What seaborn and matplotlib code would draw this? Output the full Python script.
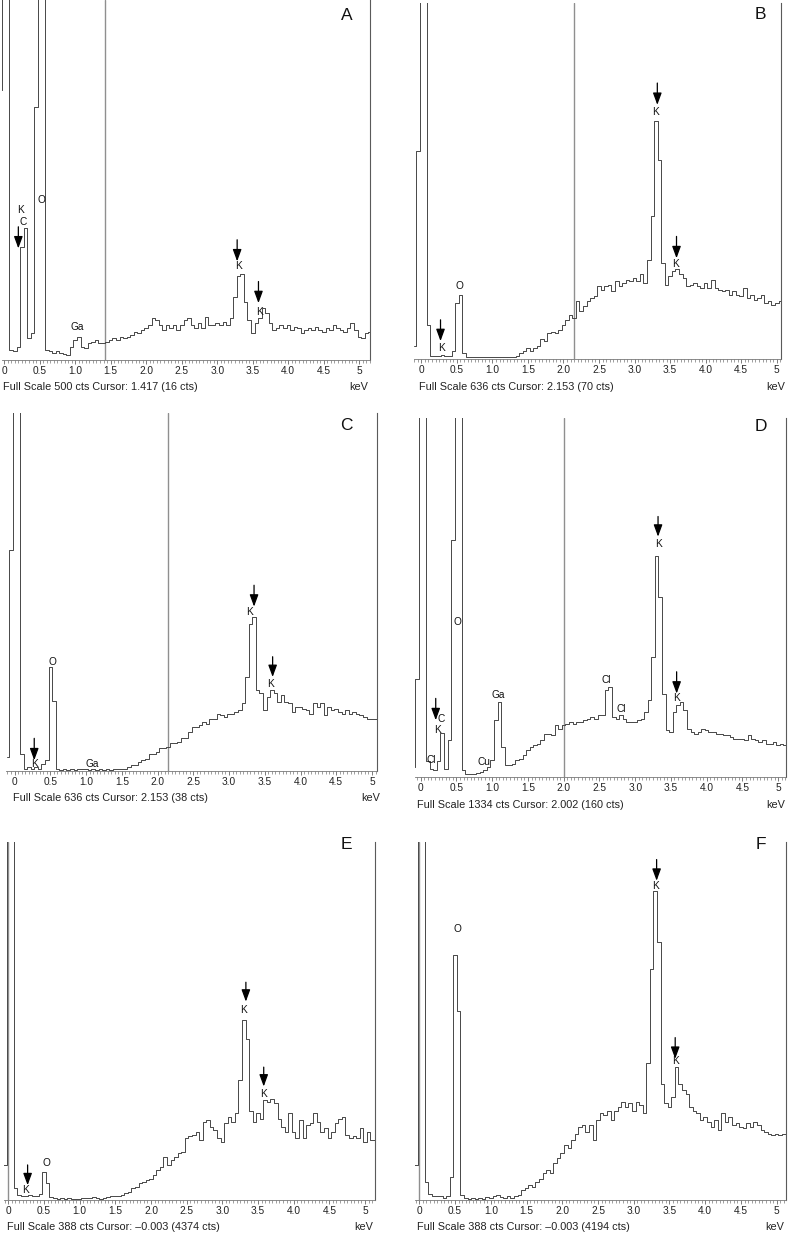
import numpy as np
import pandas as pd
import matplotlib
matplotlib.use("Agg")
import matplotlib.pyplot as plt
from matplotlib.ticker import FixedLocator, MultipleLocator, FuncFormatter
import seaborn as sns

# ── Data: EDS spectra, counts per 0.05 keV bin from -0.10 to 5.15 keV ─────────
A_CTS = [
    375, 375,
    4000, 4000, 14, 13, 18, 157, 183, 30, 37, 352,
    4000, 4000, 14, 12, 10, 12, 10, 8, 7, 18,
    28, 32, 18, 16, 23, 25, 28, 23, 23, 25,
    28, 30, 28, 32, 30, 32, 35, 39, 37, 42,
    44, 49, 58, 56, 49, 42, 49, 44, 49, 42,
    49, 56, 58, 49, 44, 51, 44, 60, 49, 49,
    51, 49, 53, 49, 58, 88, 116, 120, 81, 56,
    37, 51, 58, 72, 65, 51, 42, 44, 49, 44,
    49, 42, 46, 44, 37, 42, 44, 42, 46, 42,
    39, 44, 42, 49, 44, 42, 39, 44, 51, 42,
    32, 30, 37, 39,
]
B_CTS = [
    23, 371,
    4000, 4000, 60, 5, 6, 6, 7, 6, 5, 14,
    100, 115, 11, 4, 3, 4, 3, 4, 3, 4,
    3, 4, 3, 4, 3, 4, 4, 5, 11, 14,
    20, 14, 20, 23, 35, 32, 46, 49, 46, 52,
    61, 70, 79, 73, 103, 85, 94, 103, 109, 112,
    130, 124, 130, 133, 121, 139, 130, 136, 142, 139,
    145, 139, 151, 136, 177, 255, 425, 355, 172, 133,
    148, 157, 160, 151, 145, 130, 133, 136, 130, 127,
    136, 127, 142, 127, 124, 121, 124, 115, 121, 115,
    112, 127, 109, 115, 106, 109, 115, 100, 103, 97,
    100, 103, 103, 103,
]
C_CTS = [
    25, 393,
    4000, 4000, 30, 4, 7, 4, 7, 4, 13, 19,
    185, 125, 4, 2, 4, 2, 4, 2, 3, 3,
    3, 2, 3, 2, 3, 2, 3, 2, 3, 3,
    3, 4, 7, 10, 10, 16, 19, 22, 31, 31,
    34, 40, 40, 43, 49, 49, 52, 58, 58, 69,
    78, 78, 81, 87, 84, 93, 93, 102, 99, 96,
    102, 102, 105, 108, 120, 167, 262, 274, 144, 138,
    108, 132, 144, 138, 123, 135, 123, 120, 105, 114,
    114, 111, 108, 102, 120, 114, 120, 99, 114, 108,
    111, 105, 102, 108, 102, 105, 102, 99, 96, 93,
    93, 93, 93, 93,
]
D_CTS = [
    37, 366,
    4000, 4000, 60, 31, 27, 60, 163, 30, 136, 881,
    4000, 4000, 25, 12, 10, 12, 15, 19, 25, 37,
    62, 211, 279, 112, 43, 43, 50, 62, 68, 81,
    99, 112, 118, 124, 136, 161, 161, 155, 192, 180,
    192, 198, 205, 198, 205, 205, 211, 217, 223, 217,
    229, 229, 322, 335, 223, 217, 229, 217, 205, 205,
    205, 211, 217, 242, 285, 446, 820, 670, 310, 174,
    167, 242, 267, 279, 248, 180, 167, 161, 167, 180,
    174, 167, 167, 161, 161, 155, 155, 149, 143, 143,
    143, 136, 155, 143, 136, 130, 136, 124, 124, 130,
    118, 124, 118, 118,
]
E_CTS = [
    38, 38,
    4374, 4000, 13, 5, 4, 4, 5, 4, 4, 7,
    30, 18, 3, 2, 1, 2, 1, 2, 1, 1,
    1, 2, 2, 2, 3, 2, 1, 2, 3, 4,
    4, 4, 5, 8, 9, 13, 14, 18, 20, 22,
    23, 27, 32, 36, 47, 38, 43, 47, 51, 52,
    67, 69, 70, 74, 65, 85, 87, 79, 76, 67,
    63, 83, 90, 85, 94, 130, 195, 175, 97, 85,
    94, 88, 108, 106, 110, 105, 88, 79, 74, 94,
    74, 67, 87, 67, 81, 83, 94, 85, 74, 78,
    67, 74, 83, 88, 90, 70, 67, 69, 67, 78,
    63, 74, 65, 65,
]
F_CTS = [
    38, 38,
    4194, 4000, 20, 7, 4, 4, 4, 2, 4, 25,
    265, 205, 5, 2, 1, 2, 1, 2, 1, 3,
    2, 4, 5, 3, 2, 4, 2, 4, 5, 11,
    13, 16, 14, 20, 23, 29, 32, 29, 40, 45,
    51, 60, 56, 65, 72, 79, 81, 74, 81, 65,
    87, 94, 92, 96, 87, 97, 101, 106, 101, 105,
    97, 106, 103, 94, 148, 250, 335, 280, 126, 105,
    101, 112, 144, 126, 119, 115, 101, 96, 94, 87,
    90, 85, 79, 87, 76, 94, 85, 90, 81, 83,
    79, 78, 83, 79, 85, 81, 76, 74, 72, 70,
    72, 70, 72, 72,
]

PANELS = ["A", "B", "C", "D", "E", "F"]
SPECTRA = [A_CTS, B_CTS, C_CTS, D_CTS, E_CTS, F_CTS]
FULL_SCALE = [500, 636, 636, 1334, 388, 388]
CURSOR_KEV = [1.417, 2.153, 2.153, 2.002, -0.003, -0.003]
CURSOR_CTS = [16, 70, 38, 160, 4374, 4194]

# element labels (text, keV, cts) and marker arrows (keV, tail cts, tip cts)
PEAK_LABELS = [
    [("K", 0.235, 208), ("C", 0.27, 192), ("O", 0.52, 222), ("Ga", 1.03, 46),
     ("K", 3.30, 130), ("K", 3.59, 67)],
    [("K", 0.28, 20), ("O", 0.53, 131), ("K", 3.30, 441), ("K", 3.57, 169)],
    [("K", 0.275, 12), ("O", 0.53, 194), ("Ga", 1.08, 13), ("K", 3.28, 283),
     ("K", 3.58, 155)],
    [("Cl", 0.15, 62), ("C", 0.29, 217), ("K", 0.23, 176), ("O", 0.51, 577),
     ("Cu", 0.88, 56), ("Ga", 1.08, 304), ("Cl", 2.60, 362), ("Cl", 2.80, 254),
     ("K", 3.32, 866), ("K", 3.58, 292)],
    [("K", 0.24, 11), ("O", 0.53, 40), ("K", 3.30, 206), ("K", 3.57, 115)],
    [("O", 0.53, 294), ("K", 3.31, 340), ("K", 3.58, 151)],
]
ARROWS = [
    [(0.20, 185, 155), (3.28, 167, 137), (3.58, 109, 79)],
    [(0.27, 70, 32), (3.32, 493, 454), (3.59, 219, 180)],
    [(0.275, 58, 19), (3.35, 330, 292), (3.61, 203, 167)],
    [(0.21, 292, 211), (3.32, 968, 893), (3.58, 391, 310)],
    [(0.27, 38, 16), (3.33, 236, 215), (3.58, 144, 123)],
    [(3.32, 369, 346), (3.58, 176, 153)],
]

# ── Layout (pixels on a 788x1234 canvas) ──────────────────────────────────────
W, H = 788, 1234
RECTS = [(2, 0, 370, 360), (414, 3, 781, 359), (6, 413, 377, 771),
         (415, 418, 786, 777), (4, 842, 375, 1200), (415, 842, 786, 1200)]
XLIMS = [(-0.03, 5.15), (-0.103, 5.06), (-0.12, 5.07),
         (-0.08, 5.11), (-0.061, 5.14), (-0.06, 5.13)]
FOOTER_XY = [(3, 387, 368), (419, 387, 785), (13, 798, 380),
             (417, 805, 785), (7, 1227, 373), (417, 1227, 784)]
LETTER_XY = [(0.937, 0.958), (0.945, 0.969), (0.918, 0.964),
             (0.932, 0.976), (0.924, 0.992), (0.932, 0.992)]

LINE = "#474747"
CURSOR = "#8f8f8f"

sns.set_theme(style="white")
plt.rcParams["font.family"] = ["Liberation Sans", "DejaVu Sans"]


def tick_fmt(v, _):
    if abs(v) < 1e-9:
        return "0"
    if abs(v - 5) < 1e-9:
        return "5"
    return f"{v:.1f}"


fig = plt.figure(figsize=(W / 100, H / 100), dpi=100)
fig.patch.set_facecolor("white")

for i, name in enumerate(PANELS):
    counts = SPECTRA[i]
    assert len(counts) == 106, (name, len(counts))
    df = pd.DataFrame({"keV": np.round(-0.1 + 0.05 * np.arange(len(counts)), 2),
                       "cts": counts})
    l, t, r, b = RECTS[i]
    ax = fig.add_axes([l / W, 1 - b / H, (r - l) / W, (b - t) / H])
    ax.set_facecolor("white")

    ax.axvline(CURSOR_KEV[i], color=CURSOR, lw=1.0, zorder=1)
    sns.lineplot(data=df, x="keV", y="cts", ax=ax, estimator=None, sort=False,
                 drawstyle="steps-mid", color=LINE, linewidth=0.7, zorder=2)

    ax.set_xlim(*XLIMS[i])
    ax.set_ylim(0, FULL_SCALE[i])
    ax.set_xlabel("")
    ax.set_ylabel("")
    ax.set_yticks([])
    ax.xaxis.set_major_locator(FixedLocator(np.arange(0, 5.01, 0.5)))
    ax.xaxis.set_minor_locator(MultipleLocator(0.05))
    ax.xaxis.set_major_formatter(FuncFormatter(tick_fmt))
    ax.tick_params(axis="x", which="major", direction="out", length=3,
                   width=0.6, color="#666666", pad=1.2, labelsize=7.3,
                   labelcolor="#222222", bottom=True)
    ax.tick_params(axis="x", which="minor", direction="out", length=1.8,
                   width=0.5, color="#777777", bottom=True)

    for side in ("top", "left"):
        ax.spines[side].set_visible(False)
    ax.spines["right"].set_color("#5a5a5a")
    ax.spines["right"].set_linewidth(0.8)
    ax.spines["bottom"].set_color("#777777")
    ax.spines["bottom"].set_linewidth(0.6)

    for txt, e, c in PEAK_LABELS[i]:
        ax.text(e, c, txt, ha="center", va="center", fontsize=7.3,
                color="#111111", zorder=4)
    for e, top, tip in ARROWS[i]:
        ax.annotate("", xy=(e, tip), xytext=(e, top),
                    arrowprops=dict(arrowstyle="-|>,head_length=0.6,head_width=0.22",
                                    color="black", lw=0.9, shrinkA=0, shrinkB=0),
                    zorder=5)

    lx, ly = LETTER_XY[i]
    ax.text(lx, ly, name, transform=ax.transAxes, ha="center", va="center",
            fontsize=12.5, color="#111111")

    cur = f"{CURSOR_KEV[i]:.3f}".replace("-", "\u2013")
    footer = f"Full Scale {FULL_SCALE[i]} cts Cursor: {cur} ({CURSOR_CTS[i]} cts)"
    fx, fy, kx = FOOTER_XY[i]
    fig.text(fx / W, 1 - fy / H, footer, ha="left", va="center",
             fontsize=7.8, color="#222222")
    fig.text(kx / W, 1 - fy / H, "keV", ha="right", va="center",
             fontsize=7.8, color="#222222")

fig.savefig("out.png", dpi=100, facecolor="white")
